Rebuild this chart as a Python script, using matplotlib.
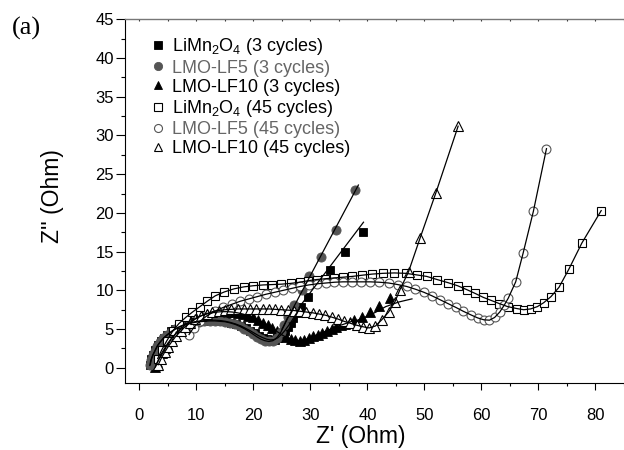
import matplotlib
matplotlib.use("Agg")
import matplotlib.pyplot as plt
from matplotlib.ticker import MultipleLocator

plt.rcParams['font.family'] = ['Liberation Sans', 'DejaVu Sans']
plt.rcParams['mathtext.fontset'] = 'custom'
plt.rcParams['mathtext.rm'] = 'Liberation Sans'
plt.rcParams['mathtext.it'] = 'Liberation Sans:italic'

# ---------------- data (Z' , Z'' in Ohm) ----------------
# LiMn2O4, 3 cycles (filled squares)
lmo3_x = [1.9, 2.1, 2.4, 2.8, 3.2, 3.7, 4.3, 4.9, 5.6, 6.3, 7.1, 7.9, 8.8, 9.7, 10.6,
          11.5, 12.4, 13.3, 14.2, 15.1, 16.0, 16.9, 17.8, 18.6, 19.4, 20.2, 20.9, 21.6,
          22.3, 23.0, 23.7, 24.3, 24.9, 25.5, 26.0, 26.5, 27.0, 27.6, 28.3, 29.5, 33.4,
          36.0, 39.2]
lmo3_y = [0.4, 1.1, 1.7, 2.3, 2.9, 3.4, 3.9, 4.3, 4.7, 5.05, 5.35, 5.6, 5.8, 5.95, 6.05,
          6.1, 6.15, 6.15, 6.1, 6.0, 5.85, 5.65, 5.4, 5.1, 4.8, 4.45, 4.15, 3.9,
          3.7, 3.6, 3.65, 3.9, 4.3, 4.8, 5.3, 5.8, 6.4, 7.1, 7.9, 9.2, 12.6,
          15.0, 17.6]
lmo3_fit_x = [28.0, 39.3]
lmo3_fit_y = [7.8, 18.8]

# LMO-LF5, 3 cycles (filled grey circles)
lf5_3_x = [1.8, 2.0, 2.3, 2.7, 3.1, 3.6, 4.2, 4.8, 5.5, 6.2, 7.0, 7.8, 8.7, 9.6, 10.5,
           11.4, 12.3, 13.2, 14.1, 15.0, 15.9, 16.8, 17.6, 18.4, 19.2, 19.9, 20.6, 21.3,
           22.0, 22.7, 23.4, 24.1, 24.8, 25.4, 26.0, 27.1, 28.5, 29.7, 31.8, 34.4, 37.8]
lf5_3_y = [0.3, 1.0, 1.6, 2.2, 2.8, 3.3, 3.8, 4.2, 4.6, 4.95, 5.25, 5.5, 5.7, 5.85, 5.95,
           6.0, 6.05, 6.05, 6.0, 5.95, 5.8, 5.6, 5.35, 5.05, 4.7, 4.35, 4.0, 3.7,
           3.5, 3.4, 3.5, 3.9, 4.6, 5.5, 6.5, 8.1, 10.0, 11.8, 14.3, 17.8, 22.9]
lf5_3_fit_x = [25.0, 38.4]
lf5_3_fit_y = [5.0, 23.6]

# LMO-LF10, 3 cycles (filled triangles)
lf10_3_x = [2.8, 3.1, 3.5, 3.9, 4.4, 4.9, 5.5, 6.1, 6.8, 7.5, 8.3, 9.1, 10.0, 10.9, 11.8,
            12.7, 13.6, 14.5, 15.4, 16.3, 17.2, 18.1, 19.0, 19.9, 20.8, 21.7, 22.5, 23.3,
            24.1, 24.9, 25.7, 26.5, 27.3, 28.1, 28.9, 29.7, 30.5, 31.3, 32.1, 32.9, 33.7,
            34.5, 35.3, 36.1, 36.9, 37.7, 39.0, 40.4, 42.1, 43.9]
lf10_3_y = [0.1, 0.7, 1.3, 1.9, 2.5, 3.1, 3.7, 4.2, 4.7, 5.2, 5.7, 6.1, 6.45, 6.75, 6.95,
            7.1, 7.2, 7.25, 7.25, 7.2, 7.1, 6.95, 6.75, 6.5, 6.2, 5.85, 5.5, 5.1,
            4.7, 4.3, 3.95, 3.7, 3.55, 3.5, 3.6, 3.8, 4.05, 4.3, 4.55, 4.8, 5.05,
            5.3, 5.5, 5.7, 5.9, 6.15, 6.6, 7.2, 8.0, 9.0]
lf10_3_fit_x = [37.7, 39.5, 41.5, 43.2, 45.5, 47.8]
lf10_3_fit_y = [6.0, 6.5, 7.2, 7.9, 8.5, 8.9]

# LiMn2O4, 45 cycles (open squares)
lmo45_x = [3.2, 3.9, 4.8, 5.8, 6.9, 8.1, 9.3, 10.6, 11.9, 13.3, 14.9, 16.6, 18.3, 20.0,
           21.7, 23.3, 24.9, 26.5, 28.1, 29.6, 31.1, 32.6, 34.1, 35.7, 37.3, 39.0, 40.8,
           42.7, 44.7, 46.7, 48.6, 50.4, 52.2, 54.1, 55.8, 57.4, 58.9, 60.3, 61.7, 63.1,
           64.6, 66.2, 67.4, 68.6, 69.8, 70.9, 72.2, 73.6, 75.3, 77.6, 81.0]
lmo45_y = [1.2, 2.3, 3.5, 4.7, 5.7, 6.5, 7.2, 7.9, 8.6, 9.3, 9.8, 10.2, 10.45, 10.6,
           10.7, 10.75, 10.8, 10.9, 11.05, 11.25, 11.4, 11.5, 11.6, 11.7, 11.8, 11.95, 12.1,
           12.2, 12.25, 12.2, 12.0, 11.8, 11.4, 11.0, 10.6, 10.1, 9.6, 9.1, 8.7, 8.3,
           7.9, 7.65, 7.5, 7.6, 7.9, 8.4, 9.2, 10.4, 12.7, 16.1, 20.3]

# LMO-LF5, 45 cycles (open circles)
lf5_45_x = [8.7, 9.5, 10.6, 11.8, 13.2, 14.7, 16.2, 17.7, 19.2, 20.7, 22.2, 23.7, 25.2,
            26.7, 28.2, 29.7, 31.2, 32.7, 34.2, 35.7, 37.3, 38.9, 40.5, 42.1, 43.7, 45.3,
            46.9, 48.4, 49.9, 51.3, 52.7, 54.1, 55.5, 56.8, 58.1, 59.3, 60.4, 61.4, 62.3,
            63.2, 64.0, 64.7, 66.0, 67.3, 69.1, 71.4]
lf5_45_y = [4.3, 5.2, 6.0, 6.7, 7.3, 7.8, 8.2, 8.6, 8.9, 9.2, 9.5, 9.75, 10.0,
            10.25, 10.5, 10.7, 10.85, 10.95, 11.05, 11.1, 11.1, 11.1, 11.1, 11.05, 10.95, 10.75,
            10.5, 10.15, 9.75, 9.3, 8.8, 8.3, 7.8, 7.3, 6.85, 6.45, 6.2, 6.15, 6.5,
            7.2, 8.1, 9.0, 11.1, 14.8, 20.2, 28.3]

# LMO-LF10, 45 cycles (open triangles)
lf10_45_x = [3.3, 3.8, 4.4, 5.0, 5.7, 6.4, 7.2, 8.0, 8.9, 9.8, 10.8, 11.8, 12.8, 13.9,
             15.0, 16.1, 17.2, 18.3, 19.4, 20.5, 21.6, 22.7, 23.8, 24.9, 26.0, 27.1, 28.2,
             29.3, 30.4, 31.5, 32.6, 33.7, 34.8, 35.9, 37.0, 38.1, 39.2, 40.3, 41.4, 42.5,
             43.7, 44.8, 45.7, 47.2, 49.2, 52.0, 55.9]
lf10_45_y = [0.4, 1.2, 2.0, 2.7, 3.4, 4.1, 4.7, 5.3, 5.8, 6.3, 6.7, 7.0, 7.25, 7.4,
             7.5, 7.55, 7.6, 7.6, 7.6, 7.6, 7.6, 7.6, 7.55, 7.5, 7.45, 7.4, 7.3,
             7.2, 7.1, 6.95, 6.8, 6.55, 6.3, 6.0, 5.75, 5.5, 5.3, 5.15, 5.4, 6.2,
             7.2, 8.5, 10.1, 12.4, 16.7, 22.6, 31.2]

labels = ['LiMn$_2$O$_4$ (3 cycles)', 'LMO-LF5 (3 cycles)', 'LMO-LF10 (3 cycles)',
          'LiMn$_2$O$_4$ (45 cycles)', 'LMO-LF5 (45 cycles)', 'LMO-LF10 (45 cycles)']

# ---------------- figure ----------------
fig = plt.figure(figsize=(6.24, 4.5), dpi=100)
ax = fig.add_axes([125/624, (450-383.3)/450, (624-125)/624, (383.3-19.3)/450])

grey = '#555555'
ms = 6.0
lw_line = 0.9

# fit / guide lines
ax.plot(lmo3_x[:39], lmo3_y[:39], color='black', lw=lw_line, zorder=5)
ax.plot(lmo3_fit_x, lmo3_fit_y, color='black', lw=lw_line, zorder=5)
ax.plot(lf5_3_x[:35], lf5_3_y[:35], color='black', lw=lw_line, zorder=5)
ax.plot(lf5_3_fit_x, lf5_3_fit_y, color='black', lw=lw_line, zorder=5)
ax.plot(lf10_3_x[:46], lf10_3_y[:46], color='black', lw=lw_line, zorder=5)
ax.plot(lf10_3_fit_x, lf10_3_fit_y, color='black', lw=lw_line, zorder=5)
ax.plot(lmo45_x, lmo45_y, color='black', lw=lw_line, zorder=5)
ax.plot(lf5_45_x, lf5_45_y, color='black', lw=lw_line, zorder=5)
ax.plot(lf10_45_x, lf10_45_y, color='black', lw=lw_line, zorder=5)

# markers
h1, = ax.plot(lmo3_x, lmo3_y, 's', ms=ms, mfc='black', mec='black', mew=0.6, ls='none',
              label=labels[0], zorder=2)
h2, = ax.plot(lf5_3_x, lf5_3_y, 'o', ms=ms+0.6, mfc=grey, mec=grey, mew=0.6, ls='none',
              label=labels[1], zorder=3)
h3, = ax.plot(lf10_3_x, lf10_3_y, '^', ms=ms+0.5, mfc='black', mec='black', mew=0.6, ls='none',
              label=labels[2], zorder=2.5)
h4, = ax.plot(lmo45_x, lmo45_y, 's', ms=ms, mfc='white', mec='black', mew=0.8, ls='none',
              label=labels[3], zorder=4)
h5, = ax.plot(lf5_45_x, lf5_45_y, 'o', ms=ms+0.4, mfc='white', mec=grey, mew=0.8, ls='none',
              label=labels[4], zorder=4)
h6, = ax.plot(lf10_45_x, lf10_45_y, '^', ms=ms+0.5, mfc='white', mec='black', mew=0.8, ls='none',
              label=labels[5], zorder=4)

ax.set_xlim(-2.54, 85.0)
ax.set_ylim(-2.0, 45.0)

ax.xaxis.set_major_locator(MultipleLocator(10))
ax.xaxis.set_minor_locator(MultipleLocator(5))
ax.yaxis.set_major_locator(MultipleLocator(5))
ax.yaxis.set_minor_locator(MultipleLocator(2.5))

ax.spines['right'].set_visible(False)
ax.spines['top'].set_color('#777777')
ax.spines['top'].set_linewidth(1.0)
ax.spines['left'].set_linewidth(0.8)
ax.spines['bottom'].set_linewidth(0.8)

ax.tick_params(axis='x', which='major', direction='out', length=5, width=0.8,
               labelsize=12, pad=13, top=False)
ax.tick_params(axis='x', which='minor', direction='out', length=2.5, width=0.8, top=False)
ax.tick_params(axis='y', which='major', direction='out', length=6.5, width=0.8,
               labelsize=12, pad=1.5)
ax.tick_params(axis='y', which='minor', direction='out', length=3, width=0.8)

# tiny ticks on top spine
sec = ax.secondary_xaxis('top')
sec.xaxis.set_major_locator(MultipleLocator(5))
sec.tick_params(direction='in', length=1.5, width=0.8, color='#333333', labeltop=False)
sec.spines['top'].set_visible(False)

ax.set_xlabel("Z' (Ohm)", fontsize=16.5)
ax.xaxis.set_label_coords((361-125)/499, -0.115)
ax.set_ylabel("Z'' (Ohm)", fontsize=16.5)
ax.yaxis.set_label_coords(-0.122, 0.515)

leg = ax.legend(handles=[h1, h2, h3, h4, h5, h6], loc='upper left',
                bbox_to_anchor=(0.051, 0.953), frameon=False, fontsize=13,
                borderpad=0, borderaxespad=0, handlelength=0.8, handletextpad=0.4,
                labelspacing=0.12, markerscale=0.9)
for t in leg.get_texts():
    if 'LF5' in t.get_text():
        t.set_color('#666666')

fig.text(12/624, 1-28/450, '(a)', family='Liberation Serif', fontsize=19,
         ha='left', va='center')

fig.savefig('out.png', dpi=100)
